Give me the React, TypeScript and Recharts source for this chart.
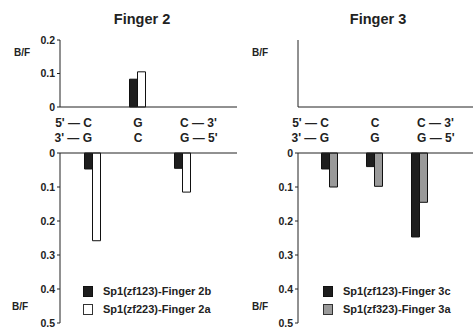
import { BarChart, Bar, XAxis, YAxis, Legend } from "recharts";

// positions along the site (three base pairs)
const positions = ["p1", "p2", "p3"];

// Finger 2: top strand / bottom strand bases
const finger2Top = ["5' — C", "G", "C — 3'"];
const finger2Bottom = ["3' — G", "C", "G — 5'"];
// Finger 3
const finger3Top = ["5' — C", "C", "C — 3'"];
const finger3Bottom = ["3' — G", "G", "G — 5'"];

// B/F values, upper strand (plotted upward)
const f2bUpper = [null, 0.083, null];
const f2aUpper = [null, 0.105, null];
const f3cUpper = [null, null, null];
const f3aUpper = [null, null, null];

// B/F values, lower strand (plotted downward)
const f2bLower = [0.047, null, 0.045];
const f2aLower = [0.258, null, 0.115];
const f3cLower = [0.047, 0.04, 0.247];
const f3aLower = [0.1, 0.098, 0.145];

const upperTicks = [0, 0.1, 0.2];
const lowerTicks = [0, 0.1, 0.2, 0.3, 0.4, 0.5];

const FONT = "'Liberation Sans', Arial, Helvetica, sans-serif";
const INK = "#222";

function rows(a: (number | null)[], b: (number | null)[]) {
  return positions.map((p, i) => ({ pos: p, a: a[i], b: b[i] }));
}

const BaseTick = ({ x, y, payload, top, bottom }: any) => {
  const i = payload.index;
  const anchor = i === 0 ? "end" : i === 2 ? "start" : "middle";
  const dx = i === 0 ? 0 : i === 2 ? -2 : 1;
  return (
    <g fontFamily={FONT} fontWeight="bold" fontSize={12} fill={INK}>
      <text x={x + dx} y={y + 12} textAnchor={anchor}>{top[i]}</text>
      <text x={x + dx} y={y + 27} textAnchor={anchor}>{bottom[i]}</text>
    </g>
  );
};

const BFLabel = (dx: number, dy: (vb: any) => number) => ({ viewBox }: any) => (
  <text
    x={viewBox.x + dx}
    y={dy(viewBox)}
    textAnchor="middle"
    fontFamily={FONT}
    fontWeight="bold"
    fontSize={10}
    fill={INK}
  >
    B/F
  </text>
);

const LegendBox = ({ payload, strokes }: any) => (
  <div style={{ fontFamily: FONT, fontWeight: "bold", fontSize: 11, color: INK }}>
    {(payload || []).map((e: any, i: number) => (
      <div key={i} style={{ display: "flex", alignItems: "center", height: 18 }}>
        <span
          style={{
            display: "inline-block",
            width: 8,
            height: 9,
            background: e.color,
            border: `1px solid ${strokes[i]}`,
            marginRight: 10,
          }}
        />
        {e.value}
      </div>
    ))}
  </div>
);

interface PanelProps {
  left: number;
  width: number;
  title: string;
  titleCenter: number;
  top: string[];
  bottom: string[];
  upper: { pos: string; a: number | null; b: number | null }[];
  lower: { pos: string; a: number | null; b: number | null }[];
  nameA: string;
  nameB: string;
  fillB: string;
  padL: number;
  padR: number;
  marginL: number;
  marginR: number;
  legendLeft: number;
  bfBottomDx: number;
}

function Panel(p: PanelProps) {
  const tickStyle = { fontFamily: FONT, fontWeight: "bold" as const, fontSize: 10.5, fill: INK };
  return (
    <>
      <div
        style={{
          position: "absolute",
          left: p.titleCenter - 60,
          top: 11,
          width: 120,
          textAlign: "center",
          fontFamily: FONT,
          fontWeight: "bold",
          fontSize: 14.5,
          lineHeight: "16px",
          color: INK,
        }}
      >
        {p.title}
      </div>
      <div style={{ position: "absolute", left: p.left, top: 0 }}>
        <BarChart
          width={p.width}
          height={150}
          data={p.upper}
          barGap={0}
          barSize={8}
          margin={{ top: 40, right: p.marginR, bottom: 0, left: p.marginL }}
        >
          <XAxis
            dataKey="pos"
            height={43}
            stroke={INK}
            tickLine={false}
            padding={{ left: p.padL, right: p.padR }}
            tick={(t: any) => <BaseTick {...t} top={p.top} bottom={p.bottom} />}
            interval={0}
          />
          <YAxis
            width={60}
            domain={[0, 0.2]}
            ticks={upperTicks}
            stroke={INK}
            tickSize={3}
            tickMargin={2}
            tick={tickStyle}
            label={{ content: BFLabel(22, (vb) => vb.y + 15.5) }}
          />
          <Bar dataKey="a" fill="#1e1e1e" stroke="#111" isAnimationActive={false} />
          <Bar dataKey="b" fill={p.fillB} stroke="#111" isAnimationActive={false} />
        </BarChart>
      </div>
      <div style={{ position: "absolute", left: p.left, top: 110 }}>
        <BarChart
          width={p.width}
          height={222}
          data={p.lower}
          barGap={0}
          barSize={8}
          margin={{ top: 42, right: p.marginR, bottom: 9, left: p.marginL }}
        >
          <XAxis
            dataKey="pos"
            orientation="top"
            height={1}
            stroke={INK}
            tick={false}
            tickLine={false}
            padding={{ left: p.padL, right: p.padR }}
          />
          <YAxis
            width={60}
            reversed
            domain={[0, 0.5]}
            ticks={lowerTicks}
            stroke={INK}
            tickSize={3}
            tickMargin={2}
            tick={tickStyle}
            label={{ content: BFLabel(p.bfBottomDx, (vb) => vb.y + vb.height - 13) }}
          />
          <Legend
            layout="vertical"
            align="center"
            verticalAlign="middle"
            wrapperStyle={{ left: p.legendLeft, top: 172, width: 160 }}
            content={(lp: any) => <LegendBox {...lp} strokes={["#111", "#333"]} />}
          />
          <Bar dataKey="a" name={p.nameA} fill="#1e1e1e" stroke="#111" isAnimationActive={false} />
          <Bar dataKey="b" name={p.nameB} fill={p.fillB} stroke="#111" isAnimationActive={false} />
        </BarChart>
      </div>
    </>
  );
}

export default function App() {
  return (
    <div
      style={{
        position: "absolute",
        left: 0,
        top: 0,
        width: 473,
        height: 332,
        background: "#fff",
        overflow: "hidden",
      }}
    >
      <Panel
        left={0}
        width={240}
        title="Finger 2"
        titleCenter={142}
        top={finger2Top}
        bottom={finger2Bottom}
        upper={rows(f2bUpper, f2aUpper)}
        lower={rows(f2bLower, f2aLower)}
        nameA="Sp1(zf123)-Finger 2b"
        nameB="Sp1(zf223)-Finger 2a"
        fillB="#ffffff"
        padL={9.5}
        padR={32.5}
        marginL={0}
        marginR={3}
        legendLeft={83}
        bfBottomDx={20}
      />
      <Panel
        left={235}
        width={238}
        title="Finger 3"
        titleCenter={378}
        top={finger3Top}
        bottom={finger3Bottom}
        upper={rows(f3cUpper, f3aUpper)}
        lower={rows(f3cLower, f3aLower)}
        nameA="Sp1(zf123)-Finger 3c"
        nameB="Sp1(zf323)-Finger 3a"
        fillB="#9a9a9a"
        padL={8.5}
        padR={31.5}
        marginL={3}
        marginR={0}
        legendLeft={88}
        bfBottomDx={22}
      />
    </div>
  );
}
